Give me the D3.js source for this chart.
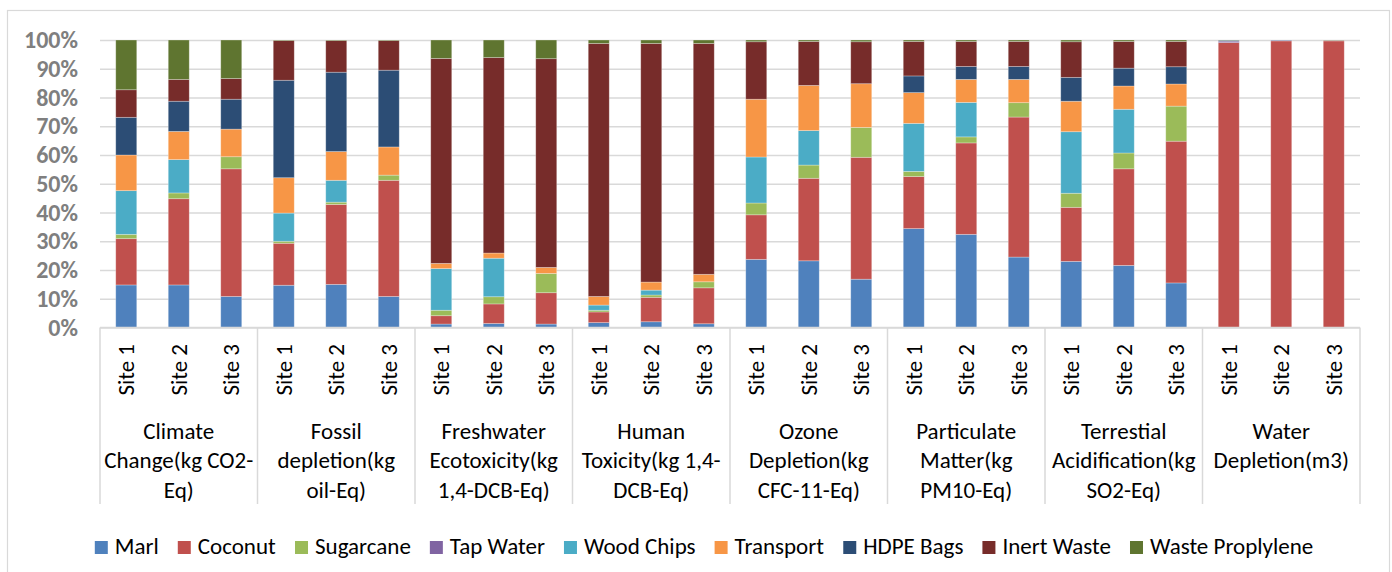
<!DOCTYPE html>
<html>
<head>
<meta charset="utf-8">
<script src="https://cdn.jsdelivr.net/npm/d3@7"></script>
<style>
  html, body { margin: 0; padding: 0; background: #fff; }
  svg { display: block; }
  text { font-family: Carlito, Lato, "Open Sans", sans-serif; }
</style>
</head>
<body>
<svg id="chart" width="1392" height="572"></svg>
<script>
// ---------- data ----------
const categories = [
  ["Climate", "Change(kg CO2-", "Eq)"],
  ["Fossil", "depletion(kg", "oil-Eq)"],
  ["Freshwater", "Ecotoxicity(kg", "1,4-DCB-Eq)"],
  ["Human", "Toxicity(kg 1,4-", "DCB-Eq)"],
  ["Ozone", "Depletion(kg", "CFC-11-Eq)"],
  ["Particulate", "Matter(kg", "PM10-Eq)"],
  ["Terrestial", "Acidification(kg", "SO2-Eq)"],
  ["Water", "Depletion(m3)"]
];
const sites = ["Site 1", "Site 2", "Site 3"];
const seriesNames = ["Marl", "Coconut", "Sugarcane", "Tap Water", "Wood Chips",
  "Transport", "HDPE Bags", "Inert Waste", "Waste Proplylene"];
const yTicks = [0, 0.1, 0.2, 0.3, 0.4, 0.5, 0.6, 0.7, 0.8, 0.9, 1.0];

// values in %, order: each category x (Site 1, Site 2, Site 3)
const marl      = [14.8,14.8,10.8, 14.7,15.0,10.8, 1.2,1.4,1.2, 1.7,2.0,1.3, 23.7,23.2,16.8, 34.4,32.4,24.5, 23.0,21.6,15.5, 0,0,0];
const coconut   = [16.1,30.0,44.4, 14.6,27.8,40.4, 2.9,6.8,10.9, 3.7,8.5,12.5, 15.5,28.7,42.4, 18.1,31.8,48.7, 18.8,33.6,49.3, 99.1,99.7,99.8];
const sugarcane = [1.5,2.0,4.2, 0.7,0.8,1.8, 1.9,2.5,6.7, 0.6,0.8,2.1, 4.1,4.6,10.4, 1.8,2.1,5.0, 4.9,5.5,12.2, 0,0,0];
const tapWater  = [0,0,0, 0,0,0, 0,0,0, 0,0,0, 0,0,0, 0,0,0, 0,0,0, 0.5,0.2,0.1];
const woodChips = [15.2,11.6,0, 9.8,7.6,0, 14.5,13.4,0, 1.8,1.7,0, 16.0,12.0,0, 16.7,12.0,0, 21.4,15.2,0, 0,0,0];
const transport = [12.4,9.8,9.6, 12.3,10.0,9.8, 1.8,1.8,2.1, 3.0,2.8,2.6, 20.1,15.7,15.2, 10.7,8.0,8.1, 10.6,8.1,7.7, 0,0,0];
const hdpeBags  = [13.1,10.5,10.4, 33.9,27.6,26.7, 0,0,0, 0,0,0, 0,0,0, 5.8,4.5,4.5, 8.3,6.2,6.0, 0.3,0.1,0];
const inertWaste= [9.6,7.6,7.2, 13.8,11.0,10.3, 71.3,68.0,72.6, 88.0,83.0,80.3, 20.0,15.3,14.6, 12.0,8.7,8.7, 12.4,9.3,8.8, 0,0,0.1];
const wasteProp = [17.3,13.7,13.4, 0.2,0.2,0.2, 6.4,6.1,6.5, 1.2,1.2,1.2, 0.6,0.5,0.6, 0.5,0.5,0.5, 0.6,0.5,0.5, 0.1,0,0.1];

const colors = ["#4F81BD", "#C0504D", "#9BBB59", "#8064A2", "#4BACC6",
  "#F79646", "#2C4D75", "#772C2A", "#5F7530"];

// ---------- build table ----------
const seriesValues = [marl, coconut, sugarcane, tapWater, woodChips, transport, hdpeBags, inertWaste, wasteProp];
const rows = [];
categories.forEach((c, ci) => {
  sites.forEach((s, si) => {
    const i = ci * 3 + si;
    const r = { id: ci + "-" + si, cat: ci, site: s };
    seriesNames.forEach((n, k) => { r[n] = seriesValues[k][i]; });
    rows.push(r);
  });
});

const stacked = d3.stack().keys(seriesNames).offset(d3.stackOffsetExpand)(rows);

// ---------- layout ----------
const svg = d3.select("#chart");
const pLeft = 100, pRight = 1360, pTop = 40, pBottom = 327.5;
const FONT = 23;

svg.append("rect").attr("x", 0).attr("y", 0).attr("width", 1392).attr("height", 572).attr("fill", "#fff");
svg.append("rect").attr("x", 7.5).attr("y", 10.5).attr("width", 1382).attr("height", 600)
  .attr("fill", "none").attr("stroke", "#d9d9d9").attr("stroke-width", 1.2);

const x = d3.scaleBand().domain(rows.map(r => r.id)).range([pLeft, pRight])
  .paddingInner(0.6).paddingOuter(0.3);
const xg = d3.scaleBand().domain(categories.map((c, i) => i)).range([pLeft, pRight]);
const y = d3.scaleLinear().domain([0, 1]).range([pBottom, pTop]);

// gridlines
svg.append("g").attr("transform", `translate(${pLeft},0)`)
  .call(d3.axisLeft(y).tickValues(yTicks).tickSize(-(pRight - pLeft)).tickFormat(""))
  .call(g => g.select(".domain").remove())
  .call(g => g.selectAll("line").attr("stroke", "#d9d9d9").attr("stroke-width", 1.5));

// y labels
svg.append("g").attr("transform", `translate(${pLeft},0)`)
  .call(d3.axisLeft(y).tickValues(yTicks).tickSize(0).tickPadding(22).tickFormat(d3.format(".0%")))
  .call(g => g.select(".domain").remove())
  .call(g => g.selectAll("text").attr("font-size", 24).attr("font-weight", "bold")
    .attr("fill", "#7f7f7f").style("font-family", "Carlito, Lato, sans-serif"));

// bars
svg.append("g").selectAll("g").data(stacked).join("g")
  .attr("fill", (d, i) => colors[i])
  .selectAll("rect").data(d => d).join("rect")
  .attr("x", d => x(d.data.id))
  .attr("width", x.bandwidth())
  .attr("y", d => y(d[1]))
  .attr("height", d => Math.max(0, y(d[0]) - y(d[1])))
  .attr("stroke", "rgba(255,255,255,0.35)")
  .attr("stroke-width", 0.8);

// category axis line + separators
const xAxisG = svg.append("g").attr("transform", `translate(0,${pBottom})`);
xAxisG.append("line").attr("x1", pLeft).attr("x2", pRight).attr("y1", 0).attr("y2", 0)
  .attr("stroke", "#d9d9d9").attr("stroke-width", 1.5);
const seps = categories.map((c, i) => xg(i)).concat([pRight]);
xAxisG.selectAll("line.sep").data(seps).join("line").attr("class", "sep")
  .attr("x1", d => d).attr("x2", d => d).attr("y1", 0).attr("y2", 504 - pBottom)
  .attr("stroke", "#d9d9d9").attr("stroke-width", 1.5);

// site labels (rotated)
svg.append("g").attr("transform", `translate(0,${pBottom})`)
  .call(d3.axisBottom(x).tickSize(0).tickFormat(id => sites[+id.split("-")[1]]))
  .call(g => g.select(".domain").remove())
  .call(g => g.selectAll("text")
    .attr("transform", "rotate(-90)")
    .attr("x", -(344 - pBottom)).attr("y", 0).attr("dy", "0.35em")
    .attr("text-anchor", "end")
    .attr("font-size", FONT).attr("fill", "#000")
    .style("font-family", "Carlito, Lato, sans-serif"));

// category labels
const catG = svg.append("g").selectAll("text").data(categories).join("text")
  .attr("text-anchor", "middle").attr("font-size", FONT).attr("fill", "#000")
  .attr("x", (d, i) => xg(i) + xg.bandwidth() / 2).attr("y", 438.5);
catG.selectAll("tspan").data(d => d).join("tspan")
  .attr("x", function () { return d3.select(this.parentNode).attr("x"); })
  .attr("dy", (d, i) => i === 0 ? 0 : 29.5)
  .text(d => d);

// legend
const leg = svg.append("g");
const items = leg.selectAll("g").data(seriesNames).join("g");
items.append("rect").attr("width", 13).attr("height", 13).attr("y", 541)
  .attr("fill", (d, i) => colors[i]);
items.append("text").attr("x", 20).attr("y", 554).attr("font-size", 23)
  .attr("fill", "#000").text(d => d);
const widths = [];
items.each(function () { widths.push(this.getBBox().width); });
const gap = 19;
const total = d3.sum(widths) + gap * (widths.length - 1);
let cx = 704 - total / 2;
items.attr("transform", (d, i) => {
  const t = `translate(${cx},0)`;
  cx += widths[i] + gap;
  return t;
});
</script>
</body>
</html>
